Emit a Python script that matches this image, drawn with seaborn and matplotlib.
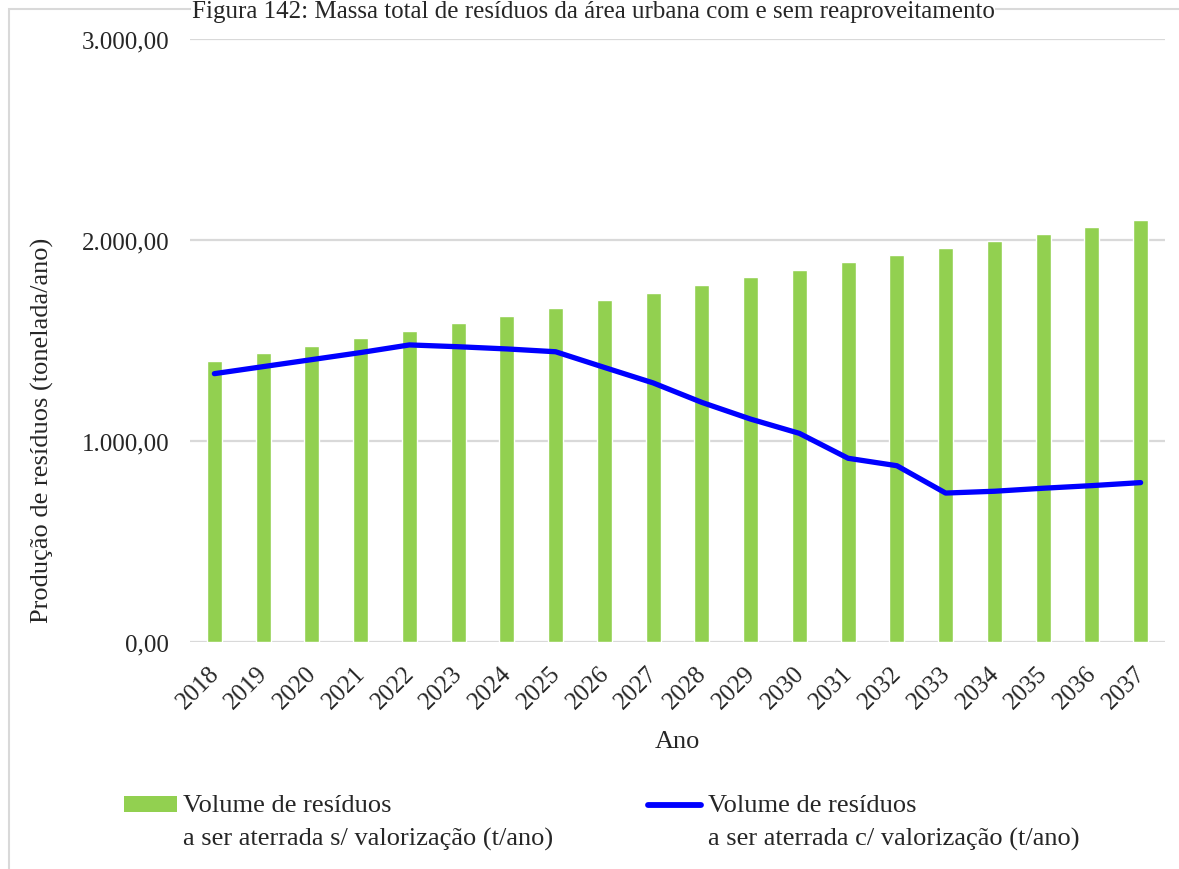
import numpy as np
import pandas as pd
import seaborn as sns
import matplotlib.pyplot as plt
from matplotlib.patches import Patch, Rectangle
from matplotlib.lines import Line2D
from matplotlib.legend_handler import HandlerPatch, HandlerLine2D
from matplotlib.ticker import FuncFormatter
from matplotlib.transforms import ScaledTranslation

years = [str(y) for y in range(2018, 2038)]
sem_valorizacao = [1398, 1437, 1473, 1512, 1549, 1587, 1622, 1660, 1700, 1736,
                   1776, 1814, 1851, 1889, 1925, 1960, 1995, 2030, 2066, 2101]
com_valorizacao = [1335, 1370, 1405, 1440, 1478, 1469, 1458, 1444, 1366, 1289,
                   1192, 1109, 1038, 914, 877, 741, 750, 765, 778, 793]

title = "Figura 142: Massa total de resíduos da área urbana com e sem reaproveitamento"
label_bar = "Volume de resíduos\na ser aterrada s/ valorização (t/ano)"
label_line = "Volume de resíduos\na ser aterrada c/ valorização (t/ano)"

GREEN = "#92D050"
BLUE = "#0000FF"
GRID = "#D9D9D9"
LEG_SPACING = 1.65
HANDLE_LIFT = 0.65  # in font-size units: puts handles level with the first text line

sns.set_theme(style="white")
plt.rcParams["font.family"] = ["Liberation Serif", "DejaVu Serif"]

df = pd.DataFrame({"Ano": years, "sem": sem_valorizacao, "com": com_valorizacao})

fig = plt.figure(figsize=(11.79, 8.70), dpi=100)
ax = fig.add_axes([190 / 1179, 1 - 643 / 870, (1165 - 190) / 1179, (643 - 40) / 870])

sns.barplot(data=df, x="Ano", y="sem", color=GREEN, width=0.31, saturation=1,
            ax=ax, zorder=2)
sns.lineplot(x=np.arange(len(years)), y=df["com"], color=BLUE, linewidth=3.8,
             ax=ax, zorder=3, solid_capstyle="round", solid_joinstyle="round")

ax.set_xlim(-0.5, len(years) - 0.5)
ax.set_ylim(0, 3000)
ax.set_yticks([0, 1000, 2000, 3000])
ax.yaxis.set_major_formatter(FuncFormatter(
    lambda v, p: f"{v:,.2f}".replace(",", "X").replace(".", ",").replace("X", ".")))
ax.grid(axis="y", color=GRID, linewidth=1.6, zorder=0)
ax.set_axisbelow(True)
for s in ax.spines.values():
    s.set_visible(False)

ax.tick_params(axis="y", length=0, pad=15, labelsize=18)
ax.tick_params(axis="x", length=0, pad=14, labelsize=18)
ax.set_xticks(range(len(years)))
ax.set_xticklabels(years, rotation=45, ha="right")
shift = ScaledTranslation(9 / 100, 0, fig.dpi_scale_trans)
for lbl in ax.get_xticklabels():
    lbl.set_transform(lbl.get_transform() + shift)
ax.set_xlabel("Ano", fontsize=19, labelpad=13)
ax.set_ylabel("Produção de resíduos (tonelada/ano)", fontsize=19)
ax.yaxis.set_label_coords(-0.1396, 0.352)


class _TopPatch(HandlerPatch):
    """Patch handle aligned with the first line of a two-line label."""
    def create_artists(self, legend, orig_handle, xdescent, ydescent, width,
                       height, fontsize, trans):
        arts = super().create_artists(legend, orig_handle, xdescent, ydescent,
                                      width, height, fontsize, trans)
        for a in arts:
            a.set_y(a.get_y() + fontsize * HANDLE_LIFT)
        return arts


class _TopLine(HandlerLine2D):
    """Line handle aligned with the first line of a two-line label."""
    def create_artists(self, legend, orig_handle, xdescent, ydescent, width,
                       height, fontsize, trans):
        arts = super().create_artists(legend, orig_handle, xdescent, ydescent,
                                      width, height, fontsize, trans)
        for a in arts:
            a.set_ydata(np.asarray(a.get_ydata()) + fontsize * HANDLE_LIFT)
        return arts


h_bar = Patch(facecolor=GREEN, edgecolor="none")
h_line = Line2D([0], [0], color=BLUE, linewidth=4.2, solid_capstyle="round")
leg = fig.legend([h_bar, h_line], [label_bar, label_line], ncol=2,
                 loc="upper left", bbox_to_anchor=(100 / 1179, 1 - 771 / 870),
                 frameon=False, fontsize=19, handlelength=2.0, handleheight=0.53,
                 handletextpad=0.25, columnspacing=3.6,
                 handler_map={Patch: _TopPatch(), Line2D: _TopLine()})
for t in leg.get_texts():
    t.set_linespacing(LEG_SPACING)

# light frame around the figure body
fig.patches.append(Rectangle((9 / 1179, -0.1), 1.2, 1 - 10 / 870 + 0.1,
                             transform=fig.transFigure, fill=False,
                             edgecolor=GRID, linewidth=1.5, zorder=0))

fig.text(593 / 1179, 1 - 1 / 870, title, ha="center", va="top", fontsize=18,
         bbox=dict(facecolor="white", edgecolor="none", pad=0.5))

fig.savefig("out.png", dpi=100)
